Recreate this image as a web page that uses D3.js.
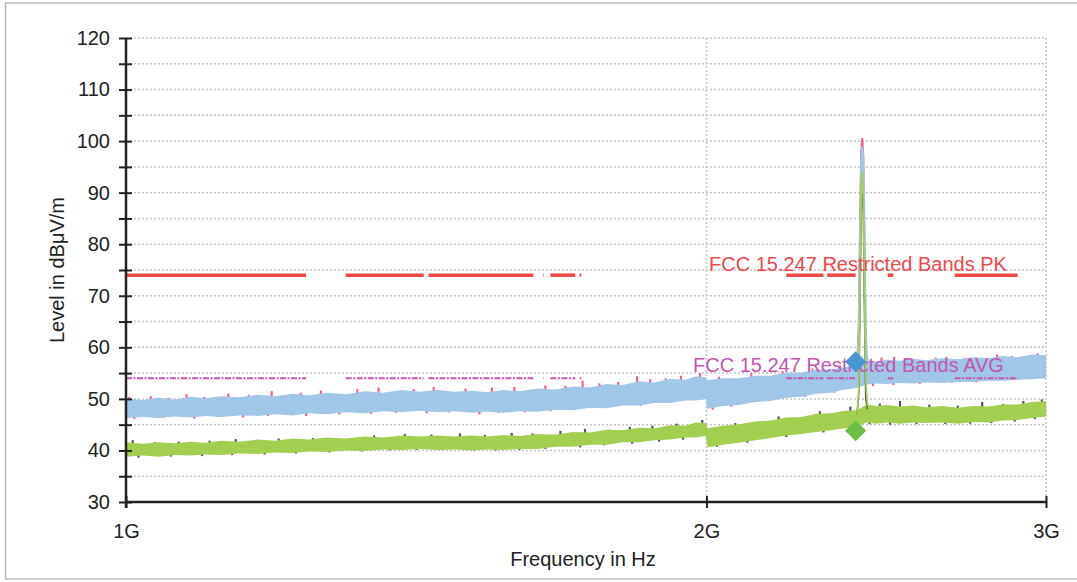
<!DOCTYPE html>
<meta charset="utf-8">
<style>
    body { margin: 0; background: #fff; }
    svg { display: block; font-family: "Liberation Sans", Arial, sans-serif; }
    .grid line { stroke: #c4c4c4; stroke-width: 1.5px; stroke-dasharray: 2,2; }
    .axis line, .axis path { stroke: #222; }
    .axis text { font-size: 20px; fill: #222; }
</style>
<svg width="1077" height="582"></svg>
<script src="https://d3js.org/d3.v7.min.js"></script>
<script>

    // frequency grid in MHz (1G .. 3G, the carrier spike is kept apart)
    var freqs = [1000, 1020, 1040, 1060, 1080, 1100, 1120, 1145, 1170, 1195, 1220, 1245, 1270, 1300, 1330, 1360, 1390, 1420,
        1450, 1480, 1510, 1540, 1570, 1600, 1635, 1670, 1705, 1740, 1775, 1810, 1845, 1880, 1915, 1950, 1975, 1998,
        2002, 2040, 2080, 2120, 2160, 2200, 2240, 2280, 2320, 2360, 2394,
        2422, 2450, 2480, 2520, 2560, 2600, 2650, 2700, 2750, 2800, 2850, 2900, 2950, 3000];

    // peak trace (vertical), envelope of the noise band
    var peakHi = [50.1, 49.8, 50.2, 49.9, 50.4, 50.1, 50.5, 50.3, 50.8, 50.5, 51.0, 50.7, 51.2, 50.9, 51.5, 51.2, 51.7, 51.4,
        51.7, 51.4, 51.6, 51.3, 51.7, 51.5, 52.0, 51.8, 52.4, 52.2, 52.9, 52.7, 53.4, 53.2, 53.9, 53.7, 54.4, 54.2,
        53.6, 54.0, 54.0, 54.5, 54.5, 55.1, 55.1, 55.7, 55.7, 56.2, 56.4,
        57.5, 57.2, 57.6, 57.4, 57.8, 57.5, 57.9, 57.7, 58.1, 57.9, 58.3, 58.1, 58.6, 58.4];
    var peakLo = [46.3, 46.5, 46.3, 46.6, 46.4, 46.7, 46.5, 46.8, 46.7, 47.0, 46.8, 47.2, 47.0, 47.4, 47.2, 47.6, 47.4, 47.7,
        47.4, 47.6, 47.3, 47.5, 47.3, 47.6, 47.5, 47.9, 47.8, 48.3, 48.2, 48.7, 48.7, 49.2, 49.2, 49.7, 49.7, 50.0,
        48.1, 48.6, 48.8, 49.4, 49.6, 50.2, 50.4, 51.0, 51.2, 51.8, 52.1,
        52.8, 53.0, 52.9, 53.1, 53.0, 53.2, 53.1, 53.3, 53.3, 53.5, 53.5, 53.7, 53.8, 54.0];

    // average trace (vertical)
    var avgHi = [41.6, 41.3, 41.6, 41.4, 41.7, 41.5, 41.9, 41.7, 42.1, 41.9, 42.3, 42.1, 42.5, 42.3, 42.7, 42.5, 42.9, 42.7,
        42.9, 42.7, 42.9, 42.7, 43.0, 42.8, 43.2, 43.1, 43.6, 43.5, 44.0, 43.9, 44.4, 44.3, 44.9, 44.8, 45.4, 45.3,
        44.3, 44.8, 45.1, 45.6, 45.8, 46.4, 46.5, 47.1, 47.2, 47.7, 47.8,
        48.9, 48.6, 48.8, 48.5, 48.7, 48.4, 48.6, 48.3, 48.6, 48.5, 48.9, 48.9, 49.4, 49.6];
    var avgLo = [38.8, 39.0, 38.8, 39.1, 39.0, 39.2, 39.1, 39.4, 39.3, 39.6, 39.5, 39.8, 39.7, 40.0, 39.9, 40.2, 40.1, 40.3,
        40.1, 40.2, 40.0, 40.2, 40.1, 40.3, 40.3, 40.7, 40.7, 41.1, 41.1, 41.6, 41.6, 42.0, 42.1, 42.5, 42.5, 42.8,
        40.6, 41.1, 41.5, 42.0, 42.4, 42.9, 43.2, 43.6, 43.9, 44.3, 44.6,
        45.4, 45.2, 45.4, 45.2, 45.4, 45.3, 45.4, 45.2, 45.5, 45.4, 45.8, 45.9, 46.3, 46.6];

    // horizontal-polarisation traces only show where they stick out of the vertical ones
    var pinkTopF = [1004, 1030, 1052, 1075, 1098, 1130, 1158, 1190, 1232, 1262, 1318, 1352, 1410, 1444, 1500, 1548, 1590,
        1650, 1690, 1725, 1760, 1800, 1841, 1870, 1905, 1940, 1985, 2030, 2110, 2190, 2270, 2345, 2380,
        2465, 2540, 2630, 2720, 2830, 2880, 2970];
    var pinkTopV = [50.4, 50.5, 50.2, 50.9, 50.4, 51.0, 50.8, 51.5, 51.2, 51.6, 51.9, 52.2, 51.9, 52.3, 52.0, 52.2, 52.3,
        52.6, 52.5, 53.5, 53.0, 53.3, 54.4, 53.8, 54.0, 54.5, 55.0, 54.3, 55.0, 55.4, 55.9, 56.5, 57.2,
        58.0, 57.8, 58.0, 57.9, 58.6, 58.3, 58.8];
    var pinkBotF = [1010, 1045, 1085, 1115, 1150, 1185, 1240, 1290, 1340, 1380, 1432, 1470, 1525, 1560, 1610, 1660, 1700,
        1745, 1790, 1850, 1900, 1960, 2015, 2060, 2150, 2250, 2330, 2440, 2500, 2580, 2680, 2760, 2860, 2940];
    var pinkBotV = [46.1, 46.3, 46.2, 46.5, 46.4, 46.7, 46.7, 47.0, 47.1, 47.3, 47.2, 47.4, 47.0, 47.3, 47.4, 47.6, 47.9,
        48.2, 48.6, 48.7, 49.2, 49.8, 47.9, 48.5, 49.6, 50.4, 51.2, 52.5, 52.7, 52.9, 53.1, 53.2, 53.6, 53.9];
    var grayTopF = [1008, 1035, 1065, 1105, 1140, 1200, 1250, 1285, 1345, 1395, 1440, 1490, 1535, 1585, 1625, 1680, 1730,
        1780, 1825, 1875, 1930, 1990, 2070, 2180, 2290, 2375, 2460, 2520, 2610, 2700, 2780, 2850, 2920, 2985];
    var grayTopV = [42.0, 41.6, 41.7, 41.9, 42.2, 42.3, 42.4, 42.3, 42.9, 43.2, 43.1, 43.3, 43.0, 43.4, 43.3, 43.8, 44.2,
        44.0, 44.6, 44.8, 45.2, 45.9, 45.3, 46.6, 47.6, 48.5, 49.1, 49.6, 48.9, 48.7, 49.4, 49.0, 49.6, 49.9];
    var grayBotF = [1015, 1055, 1095, 1135, 1180, 1225, 1275, 1325, 1370, 1415, 1460, 1515, 1555, 1600, 1650, 1720, 1770,
        1830, 1890, 1945, 2025, 2100, 2200, 2300, 2430, 2490, 2570, 2660, 2740, 2810, 2890, 2960];
    var grayBotV = [38.6, 38.8, 38.9, 39.1, 39.2, 39.4, 39.6, 39.8, 40.0, 40.1, 40.1, 40.0, 40.0, 40.1, 40.3, 40.6, 41.0,
        41.3, 41.7, 42.1, 40.7, 41.5, 42.6, 43.5, 45.1, 45.0, 45.1, 45.1, 45.2, 45.3, 45.6, 46.1];

    // the carrier at ~2.41 GHz
    var spikeFreqs = [2394, 2399, 2403, 2406, 2409, 2412, 2415, 2419, 2424];
    var pinkSpike = [56.5, 64, 86, 98, 100.6, 97, 82, 60, 57.5];
    var blueSpike = [56.0, 62, 84, 96, 99.0, 96, 84, 62, 56.5];
    var graySpike = [47.0, 51, 70, 88, 90, 86, 68, 50, 48.0];
    var greenSpike = [47.0, 52, 76, 91, 94.0, 90, 74, 54, 48.5];

    // FCC 15.205 restricted bands (MHz), limits in dBuV/m
    var restrictedBands = [[960, 1240], [1300, 1427], [1435, 1626.5], [1645.5, 1646.5], [1660, 1710],
        [1718.8, 1722.2], [2200, 2300], [2310, 2390], [2483.5, 2500], [2690, 2900]];
    var pkLimit = 74, avgLimit = 54;
    var pkLabel = "FCC 15.247 Restricted Bands PK";
    var avgLabel = "FCC 15.247 Restricted Bands AVG";

    // band-edge markers
    var markerFreq = 2390, markerPk = 57.2, markerAvg = 43.8;

    var yTickValues = [30, 35, 40, 45, 50, 55, 60, 65, 70, 75, 80, 85, 90, 95, 100, 105, 110, 115, 120];
    var xTickValues = [1000, 2000, 3000];
    var xTickLabels = ["1G", "2G", "3G"];

    var svg = d3.select("svg");

    var x = d3.scaleLog().domain([1000, 3000]).range([126, 1046]);
    var y = d3.scaleLinear().domain([30, 120]).range([502, 38]);

    // outer frame
    svg.append("rect")
        .attr("x", 5.5).attr("y", 3)
        .attr("width", 1100).attr("height", 576)
        .attr("fill", "none")
        .attr("stroke", "#bdbdbd")
        .attr("stroke-width", 1.5);

    // grid
    var grid = svg.append("g").attr("class", "grid");
    grid.selectAll(".h")
        .data(yTickValues.filter(function (d) { return d > 30; }))
        .enter().append("line")
        .attr("x1", x(1000)).attr("x2", x(3000))
        .attr("y1", function (d) { return y(d); })
        .attr("y2", function (d) { return y(d); });
    grid.selectAll(".v")
        .data(xTickValues.slice(1))
        .enter().append("line")
        .attr("x1", function (d) { return x(d); })
        .attr("x2", function (d) { return x(d); })
        .attr("y1", y(120)).attr("y2", y(30));

    var traces = svg.append("g");

    // specks, drawn first so the bands cover their inner end
    function specks(fs, vs, dir, color) {
        traces.append("g").selectAll("line")
            .data(fs.map(function (f, i) { return {f: f, v: vs[i]}; }))
            .enter().append("line")
            .attr("x1", function (d) { return x(d.f); })
            .attr("x2", function (d) { return x(d.f); })
            .attr("y1", function (d) { return y(d.v); })
            .attr("y2", function (d) { return y(d.v) + dir * 10; })
            .attr("stroke", color)
            .attr("stroke-width", 2.2);
    }
    specks(pinkTopF, pinkTopV, 1, "#f0608e");
    specks(pinkBotF, pinkBotV, -1, "#f0608e");
    specks(grayTopF, grayTopV, 1, "#555555");
    specks(grayBotF, grayBotV, -1, "#555555");

    var area = d3.area()
        .x(function (d) { return x(d.f); })
        .y0(function (d) { return y(d.lo); })
        .y1(function (d) { return y(d.hi); });

    [[peakLo, peakHi, "#a0c6e8"], [avgLo, avgHi, "#a3cf50"]].forEach(function (s) {
        traces.append("path")
            .datum(freqs.map(function (f, i) { return {f: f, lo: s[0][i], hi: s[1][i]}; }))
            .attr("d", area)
            .attr("fill", s[2]);
    });

    var spikeLine = d3.line()
        .x(function (d) { return x(d.f); })
        .y(function (d) { return y(d.v); });

    [[graySpike, "#555555", 1.5], [pinkSpike, "#f0608e", 2], [blueSpike, "#a0c6e8", 2.2],
        [greenSpike, "#a3cf50", 1.6]].forEach(function (s) {
        traces.append("path")
            .datum(spikeFreqs.map(function (f, i) { return {f: f, v: s[0][i]}; }))
            .attr("d", spikeLine)
            .attr("fill", "none")
            .attr("stroke", s[1])
            .attr("stroke-width", s[2]);
    });

    // limit lines over restricted bands
    function bandSegs(level) {
        return restrictedBands.map(function (b) {
            return {a: Math.max(b[0], 1000), b: Math.min(b[1], 3000), v: level};
        }).filter(function (d) { return d.b > d.a; });
    }

    svg.append("g").selectAll("line")
        .data(bandSegs(pkLimit))
        .enter().append("line")
        .attr("x1", function (d) { return x(d.a); })
        .attr("x2", function (d) { return x(d.b); })
        .attr("y1", function (d) { return y(d.v); })
        .attr("y2", function (d) { return y(d.v); })
        .attr("stroke", "#f04848")
        .attr("stroke-width", 3.5);

    svg.append("g").selectAll("line")
        .data(bandSegs(avgLimit))
        .enter().append("line")
        .attr("x1", function (d) { return x(d.a); })
        .attr("x2", function (d) { return x(d.b); })
        .attr("y1", function (d) { return y(d.v); })
        .attr("y2", function (d) { return y(d.v); })
        .attr("stroke", "#c456ae")
        .attr("stroke-width", 2)
        .attr("stroke-dasharray", "6,1.5,2,1.5");

    svg.append("text")
        .attr("x", 709).attr("y", y(pkLimit) - 4)
        .attr("font-size", 20)
        .attr("fill", "#f04848")
        .text(pkLabel);

    svg.append("text")
        .attr("x", 693).attr("y", y(avgLimit) - 6)
        .attr("font-size", 20)
        .attr("fill", "#c456ae")
        .text(avgLabel);

    // markers
    var diamond = d3.symbol().type(d3.symbolSquare).size(220);
    [[markerPk, "#4896d2"], [markerAvg, "#6cbe46"]].forEach(function (m) {
        svg.append("path")
            .attr("d", diamond())
            .attr("transform", "translate(" + x(markerFreq) + "," + y(m[0]) + ") rotate(45)")
            .attr("fill", m[1]);
    });

    // axes
    var yAxis = svg.append("g")
        .attr("class", "axis")
        .attr("transform", "translate(126,0)")
        .call(d3.axisLeft(y)
            .tickValues(yTickValues)
            .tickSizeOuter(0)
            .tickSize(7)
            .tickPadding(9)
            .tickFormat(function (d) { return d % 10 === 0 ? d : ""; }));
    yAxis.select(".domain").remove();
    yAxis.selectAll(".tick line").attr("x2", -7).attr("x1", 6).attr("stroke-width", 2);

    var xAxis = svg.append("g")
        .attr("class", "axis")
        .attr("transform", "translate(0,502)")
        .call(d3.axisBottom(x)
            .tickValues(xTickValues)
            .tickSizeOuter(0)
            .tickSize(6)
            .tickFormat(function (d, i) { return xTickLabels[i]; }));
    xAxis.select(".domain").remove();
    xAxis.selectAll(".tick line").attr("y1", -6).attr("y2", 6).attr("stroke-width", 2);
    xAxis.selectAll(".tick text").attr("y", 36).attr("dy", null);

    svg.append("line")
        .attr("x1", 126).attr("x2", 126)
        .attr("y1", y(120)).attr("y2", 508)
        .attr("stroke", "#222").attr("stroke-width", 2.5);
    svg.append("line")
        .attr("x1", 126).attr("x2", 1046)
        .attr("y1", 502).attr("y2", 502)
        .attr("stroke", "#222").attr("stroke-width", 2.5);

    svg.append("text")
        .attr("x", 583).attr("y", 566)
        .attr("text-anchor", "middle")
        .attr("font-size", 20)
        .attr("fill", "#222")
        .text("Frequency in Hz");

    svg.append("text")
        .attr("transform", "translate(64,270) rotate(-90)")
        .attr("text-anchor", "middle")
        .attr("font-size", 20)
        .attr("fill", "#222")
        .text("Level in dBμV/m");

</script>
